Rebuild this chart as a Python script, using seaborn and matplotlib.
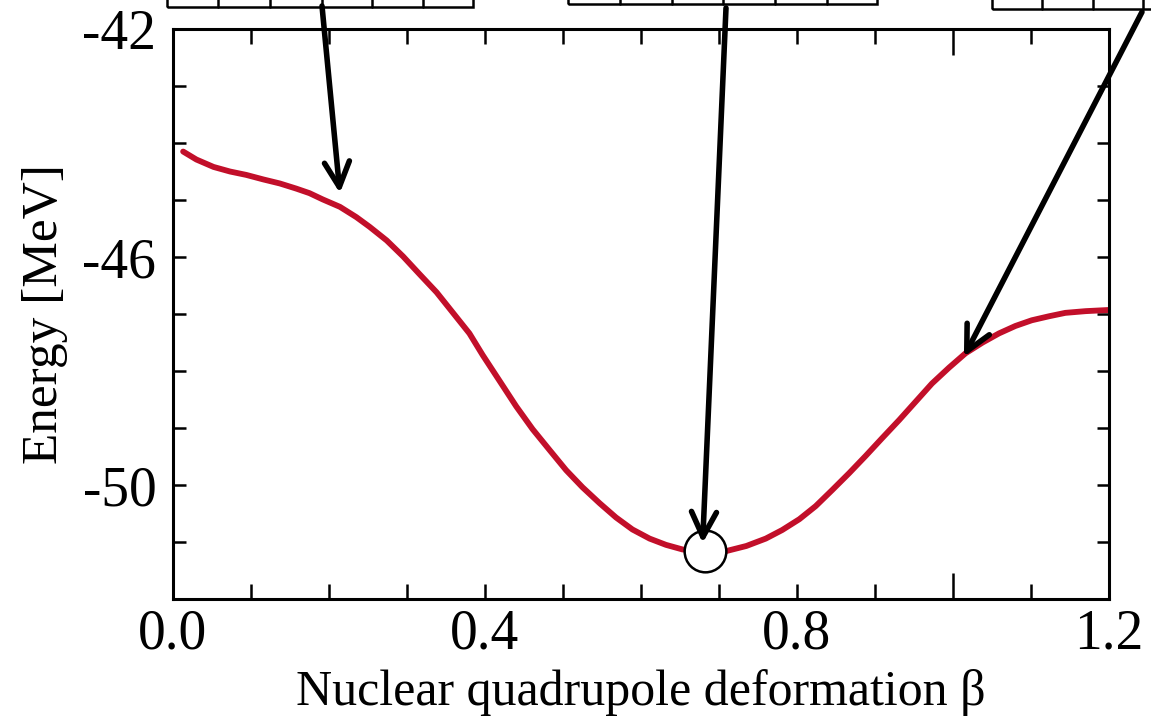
import numpy as np
import matplotlib
matplotlib.use("Agg")
import matplotlib.pyplot as plt
from matplotlib.patches import Rectangle
from matplotlib.lines import Line2D
import seaborn as sns

# energy curve
beta = [0.013, 0.030, 0.052, 0.073, 0.094, 0.116, 0.137, 0.158, 0.175, 0.192,
        0.214, 0.235, 0.252, 0.274, 0.295, 0.316, 0.338, 0.359, 0.380, 0.397,
        0.419, 0.440, 0.461, 0.483, 0.504, 0.525, 0.547, 0.568, 0.589, 0.611,
        0.632, 0.653, 0.682, 0.709, 0.735, 0.760, 0.781, 0.803, 0.824, 0.845,
        0.867, 0.888, 0.909, 0.931, 0.952, 0.973, 0.995, 1.016, 1.038, 1.059,
        1.080, 1.101, 1.123, 1.144, 1.170, 1.199]
energy = [-44.15, -44.29, -44.42, -44.50, -44.56, -44.64, -44.71, -44.80, -44.88, -44.99,
          -45.12, -45.30, -45.47, -45.71, -45.99, -46.30, -46.62, -46.98, -47.34, -47.72,
          -48.18, -48.62, -49.02, -49.39, -49.74, -50.04, -50.32, -50.57, -50.78, -50.94,
          -51.05, -51.13, -51.18, -51.16, -51.07, -50.94, -50.79, -50.60, -50.37, -50.09,
          -49.79, -49.49, -49.18, -48.86, -48.54, -48.22, -47.94, -47.69, -47.50, -47.34,
          -47.21, -47.11, -47.04, -46.98, -46.95, -46.93]

# ground state (circle) and the three shapes pointed at by arrows
min_beta, min_energy = 0.682, -51.16
arrow_beta = [0.214, 0.679, 1.014]
arrow_energy = [-44.88, -51.02, -47.75]

xtick_vals = [0.0, 0.4, 0.8, 1.0, 1.2]
xtick_labels = ["0.0", "0.4", "0.8", "", "1.2"]
ytick_vals = [-50, -46, -42]
ytick_labels = ["-50", "-46", "-42"]

sns.set_theme(style="ticks")
plt.rcParams["font.family"] = ["Liberation Serif", "DejaVu Serif"]
plt.rcParams["text.color"] = "black"
plt.rcParams["axes.labelcolor"] = "black"
plt.rcParams["xtick.color"] = "black"
plt.rcParams["ytick.color"] = "black"

W, H = 1151, 723
fig = plt.figure(figsize=(W / 100, H / 100), dpi=100)
ax = fig.add_axes([173 / W, 1 - 599 / H, 936 / W, 570 / H])

sns.lineplot(x=beta, y=energy, ax=ax, color="#c20f2a", linewidth=4.2, sort=True)
ax.plot([min_beta], [min_energy], "o", ms=30, mfc="white", mec="black", mew=1.8, zorder=5)

ax.set_xlim(0, 1.2)
ax.set_ylim(-52, -42)
ax.set_xticks(xtick_vals)
ax.set_xticklabels(xtick_labels)
ax.set_xticks(np.arange(0.1, 1.2, 0.1), minor=True)
ax.set_yticks(ytick_vals)
ax.set_yticklabels(ytick_labels)
ax.set_yticks(np.arange(-51, -42, 1), minor=True)

for s in ax.spines.values():
    s.set_linewidth(2.2)
    s.set_color("black")
ax.tick_params(which="both", direction="in", top=True, right=True,
               width=1.8, color="black", labelcolor="black", labelsize=40)
ax.tick_params(axis="x", which="both", length=11, pad=7)
ax.tick_params(axis="y", which="both", length=9, pad=12)
# the tick at 1.0 is drawn longer in the source
t = ax.xaxis.get_major_ticks()[3]
t.tick1line.set_markersize(19)
t.tick2line.set_markersize(19)

ax.set_xlabel("Nuclear quadrupole deformation β", fontsize=36, labelpad=6, color="black")
ax.set_ylabel("Energy [MeV]", fontsize=37, labelpad=10, color="black")

# cut-off shape panels at the top edge
def top_box(x0, x1, ybot, divs):
    fig.patches.append(Rectangle((x0 / W, 1 - ybot / H), (x1 - x0) / W, 0.1,
                                 transform=fig.transFigure, fill=False,
                                 ec="black", lw=1.8, clip_on=False))
    for d in divs:
        fig.lines.append(Line2D([d / W, d / W], [1 - ybot / H, 1.05],
                                transform=fig.transFigure, color="black", lw=1.8))

top_box(167, 473, 7, [218, 270, 322, 372, 423])
top_box(568, 877, 4, [620, 672, 723, 775, 827])
top_box(992, 1200, 9, [1042, 1093, 1143])

tails = [(322, 6), (726, 8), (1142, 12)]
for (tx, ty), bx, by in zip(tails, arrow_beta, arrow_energy):
    ax.annotate("", xy=(bx, by), xycoords="data",
                xytext=(tx / W, 1 - ty / H), textcoords="figure fraction",
                annotation_clip=False, zorder=6,
                arrowprops=dict(arrowstyle="->,head_length=0.6,head_width=0.3",
                                mutation_scale=30, lw=4, color="black",
                                shrinkA=0, shrinkB=0))

fig.savefig("out.png", dpi=100)
